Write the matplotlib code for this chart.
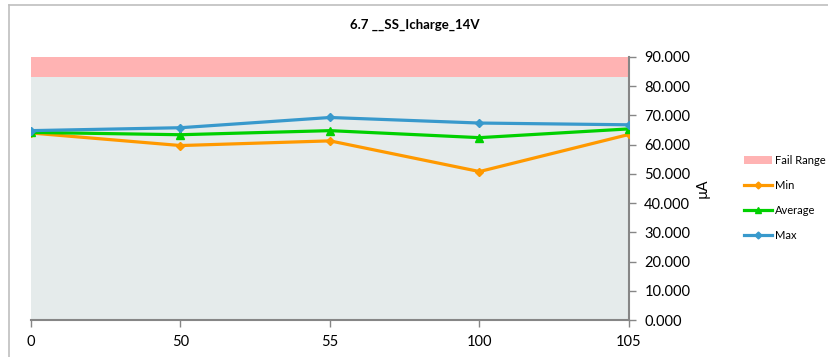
import matplotlib
matplotlib.use("Agg")
import matplotlib.pyplot as plt
from matplotlib.lines import Line2D
from matplotlib.patches import Patch

categories = ["0", "50", "55", "100", "105"]
min_vals = [64.0, 59.7, 61.3, 50.8, 63.5]
avg_vals = [64.2, 63.4, 64.8, 62.4, 65.4]
max_vals = [64.8, 65.8, 69.3, 67.4, 66.8]
fail_low, fail_high = 83.0, 90.0
yticks = [0, 10, 20, 30, 40, 50, 60, 70, 80, 90]

plt.rcParams['font.family'] = ['Lato', 'DejaVu Sans']

W, H = 829, 357
fig = plt.figure(figsize=(W / 100, H / 100), dpi=100)
fig.patch.set_facecolor('white')

L, R, T, B = 31, 629, 57, 320
ax = fig.add_axes([L / W, (H - B) / H, (R - L) / W, (B - T) / H])
ax.set_facecolor('#E5EBEB')

x = list(range(len(categories)))
ax.axhspan(fail_low, fail_high, color='#FFB3B3', lw=0, zorder=1)
ax.plot(x, min_vals, color='#FF9900', lw=2.3, marker='D', ms=4.5, zorder=3)
ax.plot(x, avg_vals, color='#00D000', lw=2.3, marker='^', ms=6, zorder=3)
ax.plot(x, max_vals, color='#3899CC', lw=2.3, marker='D', ms=4.5, zorder=4)

ax.set_xlim(0, len(categories) - 1)
ax.set_ylim(0, 90)
ax.set_xticks(x)
ax.set_xticklabels(categories, fontsize=10.5)
ax.set_yticks(yticks)
ax.set_yticklabels([f"{v:.3f}" for v in yticks], fontsize=10.5)
ax.yaxis.tick_right()
ax.yaxis.set_label_position('right')
ax.set_ylabel('µA', fontsize=10.5, labelpad=4)

for s in ['left', 'top']:
    ax.spines[s].set_visible(False)
for s in ['right', 'bottom']:
    ax.spines[s].set_color('#868686')
    ax.spines[s].set_linewidth(1.5)
ax.tick_params(axis='both', colors='#868686', labelcolor='black', length=5, width=1)
ax.tick_params(axis='x', pad=6)
ax.tick_params(axis='y', pad=6)

fig.text(415 / W, 1 - 25 / H, '6.7 __SS_Icharge_14V', ha='center', va='center',
         fontsize=9.5, fontweight='bold')

handles = [
    Patch(facecolor='#FFB3B3', edgecolor='none'),
    Line2D([], [], color='#FF9900', lw=2.3, marker='D', ms=3.5),
    Line2D([], [], color='#00D000', lw=2.3, marker='^', ms=4.5),
    Line2D([], [], color='#3899CC', lw=2.3, marker='D', ms=3.5),
]
fig.legend(handles, ['Fail Range', 'Min', 'Average', 'Max'], loc='center left',
           bbox_to_anchor=(738 / W, 1 - 198 / H), frameon=False, fontsize=8,
           handlelength=2.6, handletextpad=0.25, labelspacing=1.25, borderpad=0)

# outer chart border (top and left)
fig.add_artist(Line2D([9 / W, 9 / W], [0, 1 - 5 / H], transform=fig.transFigure,
                      color='#BFBFBF', lw=1.2))
fig.add_artist(Line2D([9 / W, 1], [1 - 5 / H, 1 - 5 / H], transform=fig.transFigure,
                      color='#BFBFBF', lw=1.2))

fig.savefig('out.png', dpi=100)
